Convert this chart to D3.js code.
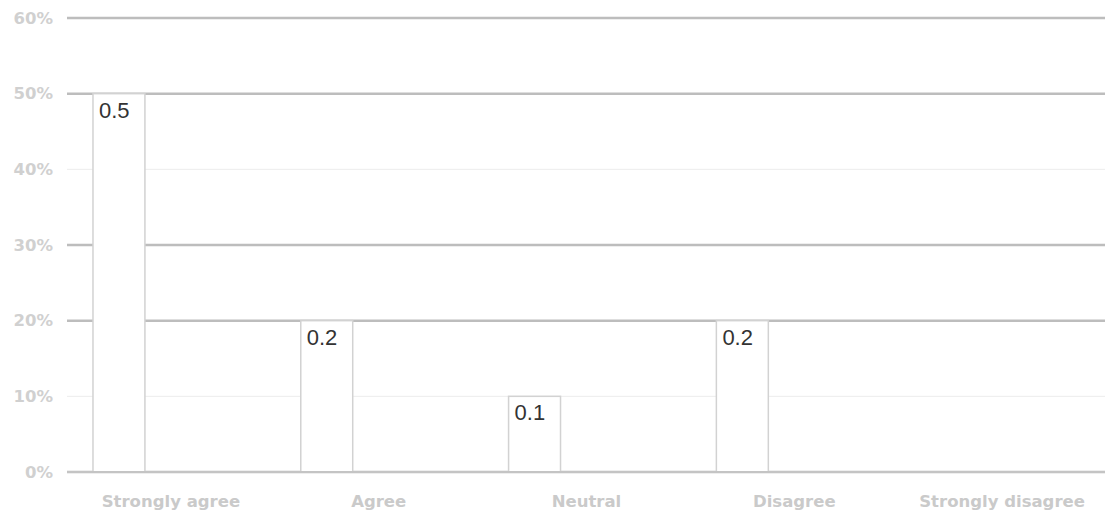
<!DOCTYPE html>
<html>
<head>
<meta charset="utf-8">
<script src="https://cdn.jsdelivr.net/npm/d3@7"></script>
<style>
  html, body { margin: 0; padding: 0; background: #fff; }
  svg { display: block; }
</style>
</head>
<body>
<svg id="chart" width="1105" height="514"></svg>
<script>
// Survey responses: share of answers per category
const categories = ["Strongly agree", "Agree", "Neutral", "Disagree", "Strongly disagree"];
const shares = [0.5, 0.2, 0.1, 0.2, null];
const yTicks = [0, 0.1, 0.2, 0.3, 0.4, 0.5, 0.6];
const strongTicks = [0, 0.2, 0.3, 0.5, 0.6];

const svg = d3.select("#chart");
const margin = { left: 67, right: -1, top: 18, bottom: 42 };
const W = 1105, H = 514;

const x = d3.scaleBand()
  .domain(categories)
  .range([margin.left, W - margin.right])
  .paddingInner(0).paddingOuter(0);

const y = d3.scaleLinear()
  .domain([0, 0.6])
  .range([H - margin.bottom, margin.top]);

// Horizontal gridlines
const grid = svg.append("g");
grid.selectAll("line")
  .data(yTicks)
  .join("line")
  .attr("x1", margin.left)
  .attr("x2", W)
  .attr("y1", d => y(d))
  .attr("y2", d => y(d))
  .attr("stroke", d => strongTicks.includes(d) ? "#bdbdbd" : "#ececec")
  .attr("stroke-width", d => strongTicks.includes(d) ? 2.5 : 1);

// Y axis labels
const yAxis = d3.axisLeft(y)
  .tickValues(yTicks)
  .tickFormat(d3.format(".0%"))
  .tickSize(0)
  .tickPadding(14);
svg.append("g")
  .attr("transform", `translate(${margin.left},0)`)
  .call(yAxis)
  .call(g => g.select(".domain").remove())
  .call(g => g.selectAll("text")
    .attr("font-family", "'DejaVu Sans', sans-serif")
    .attr("font-size", 16.5)
    .attr("font-weight", "bold")
    .attr("fill", "#d0d0d0"));

// Bars sit in the first quarter-slot of each band
const barOffset = x.bandwidth() * 0.125;
const barWidth = x.bandwidth() * 0.25;
const data = categories.map((c, i) => ({ c, v: shares[i] })).filter(d => d.v != null);

svg.append("g").selectAll("rect")
  .data(data)
  .join("rect")
  .attr("x", d => x(d.c) + barOffset)
  .attr("y", d => y(d.v))
  .attr("width", barWidth)
  .attr("height", d => y(0) - y(d.v))
  .attr("fill", "#ffffff")
  .attr("stroke", "#d2d2d2")
  .attr("stroke-width", 1.5);

// Redraw baseline over bar bottoms
svg.append("line")
  .attr("x1", margin.left).attr("x2", W)
  .attr("y1", y(0)).attr("y2", y(0))
  .attr("stroke", "#c4c4c4").attr("stroke-width", 2);

// Value labels inside bar tops
svg.append("g").selectAll("text")
  .data(data)
  .join("text")
  .attr("x", d => x(d.c) + barOffset + 6)
  .attr("y", d => y(d.v) + 24)
  .attr("font-family", "'Liberation Sans', Arial, sans-serif")
  .attr("font-size", 22)
  .attr("fill", "#333")
  .text(d => d.v);

// Category labels
const xAxis = d3.axisBottom(x).tickSize(0).tickPadding(23);
svg.append("g")
  .attr("transform", `translate(0,${y(0)})`)
  .call(xAxis)
  .call(g => g.select(".domain").remove())
  .call(g => g.selectAll("text")
    .attr("font-family", "'DejaVu Sans', sans-serif")
    .attr("font-size", 16.5)
    .attr("font-weight", "bold")
    .attr("fill", "#cacaca"));
</script>
</body>
</html>
